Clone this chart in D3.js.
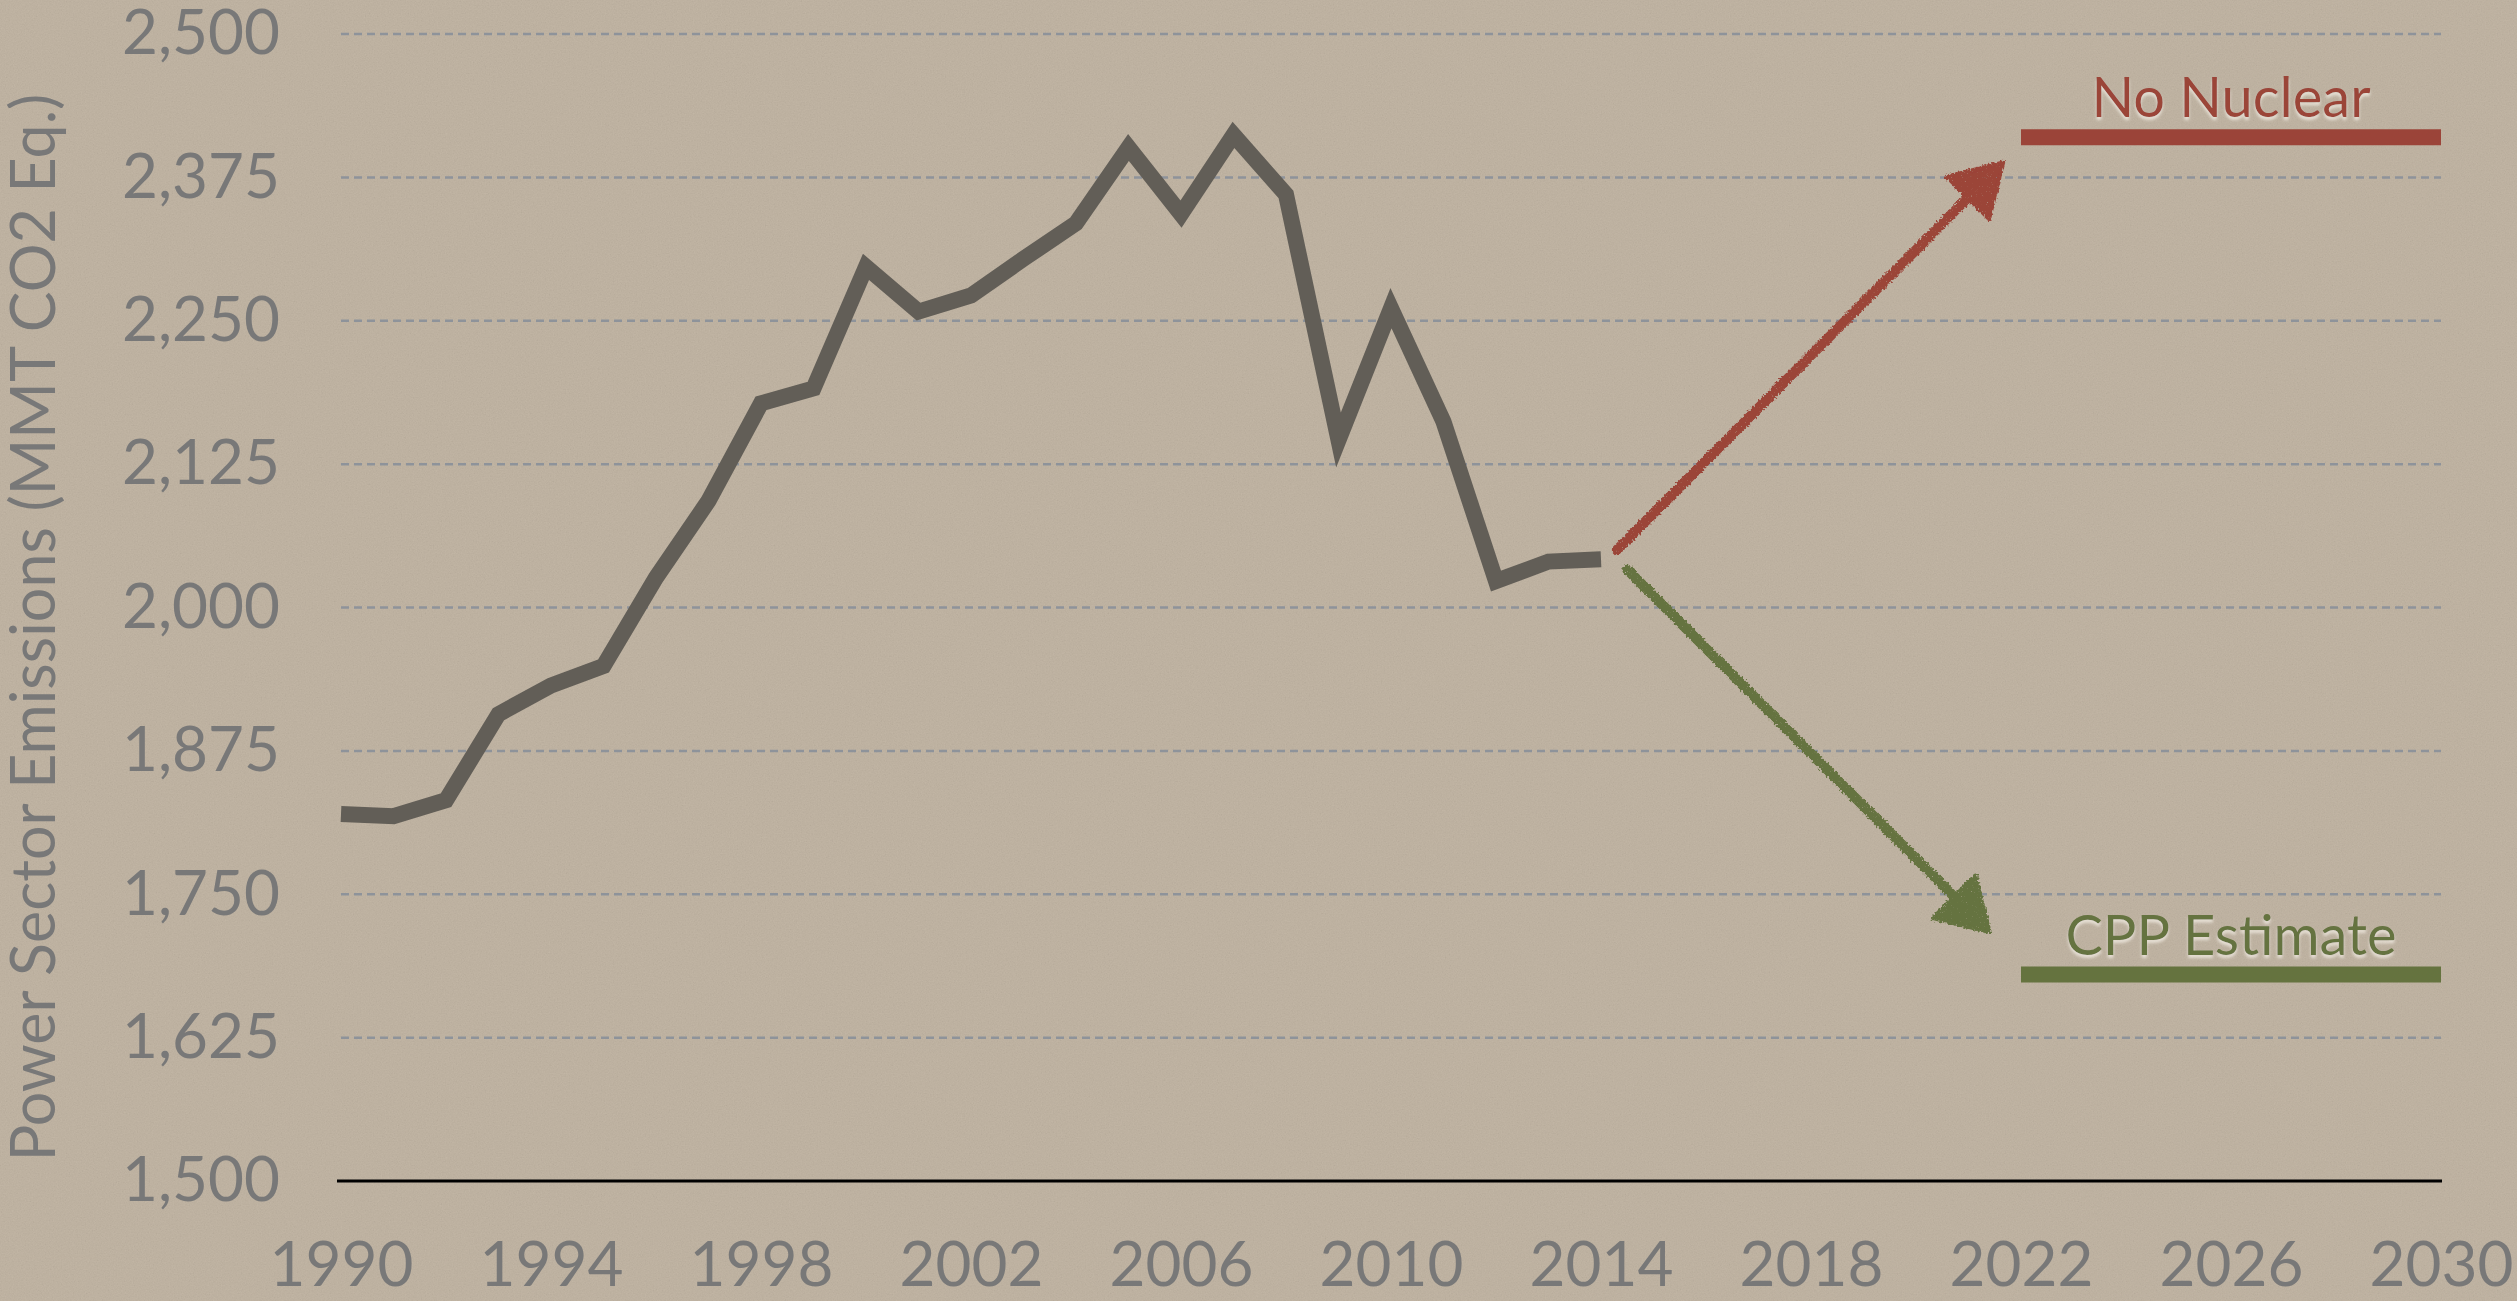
<!DOCTYPE html>
<html>
<head>
<meta charset="utf-8">
<script src="https://cdn.jsdelivr.net/npm/d3@7"></script>
<style>
  html, body { margin: 0; padding: 0; background: #bcaf9d; }
  svg { display: block; }
</style>
</head>
<body>
<script>
// ---------- data ----------
const years = [1990, 1991, 1992, 1993, 1994, 1995, 1996, 1997, 1998, 1999, 2000, 2001, 2002,
               2003, 2004, 2005, 2006, 2007, 2008, 2009, 2010, 2011, 2012, 2013, 2014];
const emissions = [1820, 1818, 1832, 1907, 1932, 1949, 2026, 2093, 2178, 2191, 2297, 2258, 2272,
                   2304, 2335, 2401, 2343, 2412, 2360, 2146, 2261, 2162, 2023, 2040, 2042];
const yTicks = [1500, 1625, 1750, 1875, 2000, 2125, 2250, 2375, 2500];
const xTicks = [1990, 1994, 1998, 2002, 2006, 2010, 2014, 2018, 2022, 2026, 2030];
const scenarioNames = ["No Nuclear", "CPP Estimate"];
const scenarioLevels = [2410, 1680];
const scenarioStartYear = [2022, 2022];
const scenarioEndYear = [2030, 2030];
const arrowFromYear = [2014.3, 2014.5];
const arrowFromValue = [2050, 2033];
const arrowToYear = [2021.66, 2021.4];
const arrowToValue = [2388, 1717];
const scenarioColors = ["#9b4439", "#65733f"];
const yTitle = "Power Sector Emissions (MMT CO2 Eq.)";

// ---------- layout ----------
const W = 2517, H = 1301;
const FONT = "Lato, 'Open Sans', sans-serif";
const svg = d3.select("body").append("svg").attr("width", W).attr("height", H);

const defs = svg.append("defs");
// paper texture
const paper = defs.append("filter").attr("id", "paper")
  .attr("x", 0).attr("y", 0).attr("width", "100%").attr("height", "100%");
paper.append("feTurbulence").attr("type", "fractalNoise").attr("baseFrequency", 0.75)
  .attr("numOctaves", 3).attr("seed", 7).attr("result", "n");
paper.append("feColorMatrix").attr("type", "matrix")
  .attr("values", "0.38 0.34 0.30 0 0  0.35 0.32 0.28 0 0  0.31 0.29 0.25 0 0  0 0 0 0 1");
// chalk filter: rough edges + light grain
const chalk = defs.append("filter").attr("id", "chalk")
  .attr("x", "-10%").attr("y", "-10%").attr("width", "120%").attr("height", "120%");
chalk.append("feTurbulence").attr("type", "fractalNoise").attr("baseFrequency", 0.5)
  .attr("numOctaves", 2).attr("seed", 3).attr("result", "t");
chalk.append("feDisplacementMap").attr("in", "SourceGraphic").attr("in2", "t")
  .attr("scale", 6).attr("xChannelSelector", "R").attr("yChannelSelector", "G")
  .attr("result", "d");
chalk.append("feTurbulence").attr("type", "fractalNoise").attr("baseFrequency", 1.2)
  .attr("numOctaves", 1).attr("seed", 11).attr("result", "g");
chalk.append("feColorMatrix").attr("in", "g").attr("type", "matrix")
  .attr("values", "0 0 0 0 0  0 0 0 0 0  0 0 0 0 0  0 0 0 -4 3.7").attr("result", "ga");
chalk.append("feComposite").attr("in", "d").attr("in2", "ga").attr("operator", "in");
// emboss text shadow
const emb = defs.append("filter").attr("id", "emboss")
  .attr("x", "-10%").attr("y", "-20%").attr("width", "120%").attr("height", "150%");
emb.append("feGaussianBlur").attr("in", "SourceAlpha").attr("stdDeviation", 1.5).attr("result", "b");
emb.append("feOffset").attr("in", "b").attr("dy", 3).attr("result", "o");
emb.append("feFlood").attr("flood-color", "#f4efe6").attr("flood-opacity", 0.75);
emb.append("feComposite").attr("in2", "o").attr("operator", "in").attr("result", "s");
const mg = emb.append("feMerge");
mg.append("feMergeNode").attr("in", "s");
mg.append("feMergeNode").attr("in", "SourceGraphic");

svg.append("rect").attr("width", W).attr("height", H).attr("fill", "#beb19f");
svg.append("rect").attr("width", W).attr("height", H).attr("filter", "url(#paper)")
  .attr("opacity", 0.13);

// ---------- scales ----------
const x = d3.scaleLinear().domain([1990, 2030]).range([341, 2441]);
const y = d3.scaleLinear().domain([1500, 2500]).range([1181, 34]);

// gridlines
svg.append("g").selectAll("line")
  .data(yTicks.filter(t => t !== 1500))
  .join("line")
  .attr("x1", x(1990)).attr("x2", x(2030))
  .attr("y1", d => y(d)).attr("y2", d => y(d))
  .attr("stroke", "#8e939a").attr("stroke-width", 2.5)
  .attr("stroke-dasharray", "8,5");

// y axis
const yAxis = svg.append("g").attr("transform", `translate(${x(1990)},0)`)
  .call(d3.axisLeft(y).tickValues(yTicks).tickSize(0).tickPadding(61)
    .tickFormat(d3.format(",")));
yAxis.select(".domain").remove();
yAxis.selectAll("text").attr("font-family", FONT).attr("font-size", 62)
  .attr("fill", "#787878");

// x axis
const xAxis = svg.append("g").attr("transform", `translate(0,${y(1500)})`)
  .call(d3.axisBottom(x).tickValues(xTicks).tickSize(0).tickPadding(61)
    .tickFormat(d3.format("d")));
xAxis.select(".domain").attr("stroke", "#000").attr("stroke-width", 3)
  .attr("d", `M${x(1990) - 4},0H${x(2030) + 1}`);
xAxis.selectAll("text").attr("font-family", FONT).attr("font-size", 62)
  .attr("fill", "#787878");

// y title
svg.append("text")
  .attr("transform", `translate(55,${(y(1500) + y(2500)) / 2 + 20}) rotate(-90)`)
  .attr("text-anchor", "middle")
  .attr("font-family", FONT).attr("font-size", 61).attr("fill", "#787878")
  .text(yTitle);

// main line
const line = d3.line().x((d, i) => x(years[i])).y(d => y(d));
svg.append("path").datum(emissions)
  .attr("d", line)
  .attr("fill", "none").attr("stroke", "#625e57").attr("stroke-width", 16)
  .attr("stroke-linejoin", "miter").attr("stroke-miterlimit", 10)
  .attr("stroke-linecap", "butt");

// scenario arrows
scenarioNames.forEach((name, i) => {
  const x0 = x(arrowFromYear[i]), y0 = y(arrowFromValue[i]);
  const x1 = x(arrowToYear[i]), y1 = y(arrowToValue[i]);
  const len = Math.hypot(x1 - x0, y1 - y0);
  const ux = (x1 - x0) / len, uy = (y1 - y0) / len;
  const px = -uy, py = ux;
  const headLen = 50, halfW = 30;
  const bx = x1 - ux * headLen, by = y1 - uy * headLen;
  const g = svg.append("g").attr("filter", "url(#chalk)");
  g.append("line")
    .attr("x1", x0).attr("y1", y0)
    .attr("x2", bx + ux * 10).attr("y2", by + uy * 10)
    .attr("stroke", scenarioColors[i]).attr("stroke-width", 10)
    .attr("stroke-linecap", "round");
  g.append("path")
    .attr("d", `M${x1},${y1}L${bx + px * halfW},${by + py * halfW}L${bx - px * halfW},${by - py * halfW}Z`)
    .attr("fill", scenarioColors[i]).attr("stroke", scenarioColors[i])
    .attr("stroke-width", 4).attr("stroke-linejoin", "round");
});

// scenario bars + labels
scenarioNames.forEach((name, i) => {
  const yy = y(scenarioLevels[i]);
  svg.append("line")
    .attr("x1", x(scenarioStartYear[i])).attr("x2", x(scenarioEndYear[i]))
    .attr("y1", yy).attr("y2", yy)
    .attr("stroke", scenarioColors[i]).attr("stroke-width", 16);
  svg.append("text")
    .attr("x", (x(scenarioStartYear[i]) + x(scenarioEndYear[i])) / 2)
    .attr("y", yy - 20)
    .attr("text-anchor", "middle")
    .attr("font-family", FONT).attr("font-size", 56)
    .attr("fill", scenarioColors[i])
    .attr("filter", "url(#emboss)")
    .text(name);
});
</script>
</body>
</html>
